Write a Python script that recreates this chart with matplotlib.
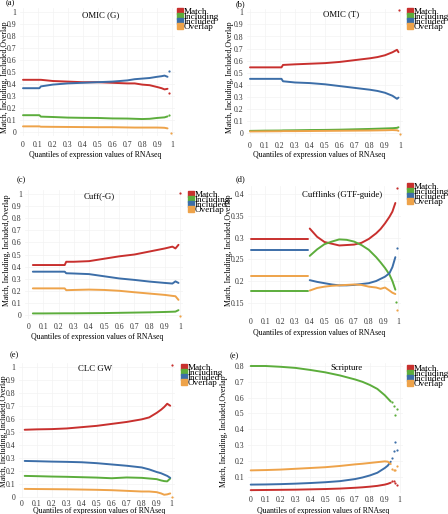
import matplotlib
matplotlib.use("Agg")
import matplotlib.pyplot as plt
from matplotlib.lines import Line2D

plt.rcParams['font.family'] = ['Liberation Serif', 'DejaVu Serif']

W, H = 448, 514
SERIES = ["Match", "Including", "Included", "Overlap"]
COLORS = {"Match": "#c8302e", "Including": "#5cad3c", "Included": "#3c6ea8", "Overlap": "#eea34a"}
XTICKS = [0, 0.1, 0.2, 0.3, 0.4, 0.5, 0.6, 0.7, 0.8, 0.9, 1]
XTICKLABELS = ["0", "0.1", "0.2", "0.3", "0.4", "0.5", "0.6", "0.7", "0.8", "0.9", "1"]
XLABEL = "Quantiles of expression values of RNAseq"
YLABEL = "Match, Including, Included,Overlap"

# ---------------- Panel (a) OMIC (G)
a_x = [0.0, 0.05, 0.11, 0.12, 0.2, 0.3, 0.4, 0.5, 0.6, 0.7, 0.75, 0.8, 0.85, 0.9, 0.93, 0.95, 0.97]
a_match = [0.435, 0.435, 0.435, 0.435, 0.425, 0.42, 0.415, 0.415, 0.41, 0.405, 0.405, 0.395, 0.39, 0.375, 0.365, 0.355, 0.36]
a_including = [0.14, 0.14, 0.14, 0.128, 0.125, 0.12, 0.118, 0.117, 0.113, 0.112, 0.11, 0.108, 0.11, 0.117, 0.12, 0.122, 0.13]
a_included = [0.365, 0.365, 0.365, 0.38, 0.395, 0.405, 0.41, 0.415, 0.42, 0.43, 0.44, 0.445, 0.45, 0.46, 0.465, 0.47, 0.46]
a_overlap = [0.047, 0.047, 0.047, 0.044, 0.043, 0.042, 0.041, 0.04, 0.04, 0.038, 0.037, 0.037, 0.037, 0.037, 0.036, 0.035, 0.03]
a_dots = {"Match": ([0.98], [0.325]), "Including": ([0.98], [0.138]),
          "Included": ([0.98], [0.505]), "Overlap": ([0.99], [-0.01])}

# ---------------- Panel (b) OMIC (T)
b_x = [0.0, 0.1, 0.21, 0.22, 0.3, 0.4, 0.5, 0.6, 0.7, 0.8, 0.85, 0.9, 0.95, 0.98, 0.99]
b_match = [0.545, 0.545, 0.545, 0.565, 0.57, 0.575, 0.58, 0.59, 0.605, 0.62, 0.63, 0.645, 0.67, 0.69, 0.67]
b_including = [0.02, 0.022, 0.023, 0.024, 0.025, 0.027, 0.028, 0.03, 0.033, 0.036, 0.038, 0.04, 0.042, 0.045, 0.05]
b_included = [0.45, 0.45, 0.45, 0.43, 0.42, 0.415, 0.405, 0.39, 0.375, 0.36, 0.35, 0.335, 0.31, 0.285, 0.295]
b_overlap = [0.015, 0.016, 0.017, 0.018, 0.018, 0.019, 0.02, 0.021, 0.022, 0.023, 0.024, 0.025, 0.027, 0.025, 0.02]
b_dots = {"Match": ([0.996], [1.02]), "Overlap": ([1.0], [-0.005])}

# ---------------- Panel (c) Cuff(-G)
c_x = [0.03, 0.1, 0.24, 0.25, 0.3, 0.4, 0.5, 0.6, 0.7, 0.8, 0.9, 0.95, 0.97, 0.99]
c_match = [0.413, 0.413, 0.413, 0.44, 0.44, 0.445, 0.465, 0.485, 0.5, 0.525, 0.55, 0.565, 0.55, 0.58]
c_including = [0.013, 0.013, 0.014, 0.014, 0.014, 0.015, 0.016, 0.018, 0.02, 0.022, 0.025, 0.027, 0.028, 0.04]
c_included = [0.358, 0.358, 0.358, 0.345, 0.343, 0.338, 0.32, 0.302, 0.29, 0.276, 0.265, 0.26, 0.278, 0.265]
c_overlap = [0.22, 0.22, 0.22, 0.205, 0.207, 0.21, 0.207, 0.2, 0.188, 0.177, 0.166, 0.158, 0.155, 0.125]
c_dots = {"Match": ([1.0], [1.01]), "Overlap": ([1.0], [-0.01])}

# ---------------- Panel (d) Cufflinks (GTF-guide)
d_x1 = [0.0, 0.2, 0.39]
d_match1 = [0.296, 0.296, 0.296]
d_including1 = [0.178, 0.178, 0.178]
d_included1 = [0.272, 0.272, 0.272]
d_overlap1 = [0.2115, 0.2115, 0.2115]
d_x2 = [0.4, 0.45, 0.5, 0.55, 0.6, 0.65, 0.7, 0.75, 0.8, 0.85, 0.88, 0.91, 0.94, 0.96, 0.98]
d_match2 = [0.321, 0.302, 0.29, 0.286, 0.282, 0.283, 0.284, 0.288, 0.297, 0.31, 0.32, 0.333, 0.348, 0.36, 0.38]
d_including2 = [0.258, 0.273, 0.285, 0.291, 0.296, 0.295, 0.291, 0.283, 0.272, 0.255, 0.243, 0.23, 0.215, 0.2, 0.18]
d_included2 = [0.202, 0.198, 0.195, 0.192, 0.19, 0.19, 0.191, 0.193, 0.195, 0.2, 0.205, 0.21, 0.218, 0.232, 0.255]
d_overlap2 = [0.178, 0.184, 0.187, 0.189, 0.19, 0.191, 0.192, 0.191, 0.187, 0.185, 0.182, 0.185, 0.178, 0.173, 0.17]
d_dots = {"Match": ([0.99], [0.415]), "Including": ([0.985], [0.152]),
          "Included": ([0.99], [0.276]), "Overlap": ([0.99], [0.133])}

# ---------------- Panel (e) CLC GW
e_x = [0.02, 0.1, 0.2, 0.3, 0.4, 0.5, 0.6, 0.7, 0.8, 0.85, 0.9, 0.93, 0.95, 0.97, 0.99]
e_match = [0.515, 0.518, 0.52, 0.525, 0.535, 0.545, 0.56, 0.575, 0.595, 0.61, 0.645, 0.67, 0.69, 0.715, 0.7]
e_including = [0.16, 0.158, 0.155, 0.153, 0.15, 0.147, 0.142, 0.148, 0.145, 0.14, 0.135, 0.125, 0.12, 0.118, 0.14]
e_included = [0.275, 0.273, 0.27, 0.268, 0.265, 0.258, 0.248, 0.238, 0.225, 0.21, 0.19, 0.18, 0.17, 0.16, 0.145]
e_overlap = [0.06, 0.059, 0.058, 0.057, 0.055, 0.053, 0.05, 0.045, 0.04, 0.04, 0.035, 0.025, 0.015, 0.018, 0.025]
e_dots = {"Match": ([1.0], [1.01]), "Overlap": ([1.0], [-0.005])}

# ---------------- Panel (f) Scripture
f_x = [0.0, 0.1, 0.2, 0.3, 0.4, 0.5, 0.6, 0.7, 0.75, 0.8, 0.85, 0.9, 0.92, 0.94]
f_match = [0.015, 0.016, 0.017, 0.018, 0.02, 0.022, 0.025, 0.03, 0.033, 0.037, 0.042, 0.05, 0.055, 0.062]
f_including = [0.8, 0.8, 0.795, 0.788, 0.775, 0.76, 0.74, 0.715, 0.7, 0.68, 0.655, 0.615, 0.595, 0.575]
f_included = [0.05, 0.051, 0.053, 0.056, 0.06, 0.065, 0.072, 0.085, 0.095, 0.108, 0.125, 0.155, 0.17, 0.195]
f_overlap = [0.14, 0.142, 0.145, 0.15, 0.155, 0.16, 0.168, 0.178, 0.182, 0.187, 0.192, 0.197, 0.195, 0.18]
f_dots = {"Match": ([0.95, 0.96, 0.97, 0.98], [0.07, 0.07, 0.06, 0.045]),
          "Including": ([0.95, 0.96, 0.97, 0.98], [0.575, 0.545, 0.49, 0.53]),
          "Included": ([0.95, 0.96, 0.97, 0.98], [0.22, 0.26, 0.32, 0.27]),
          "Overlap": ([0.95, 0.96, 0.97, 0.98], [0.15, 0.14, 0.145, 0.17])}

fig = plt.figure(figsize=(W / 100, H / 100), dpi=100)
FS = 5.6


def fx(px):
    return px / W


def fy(py):
    return 1 - py / H


def make_axes(x0px, x1px, va, pya, vb, pyb, xlim, ylim, pad=2.5):
    # pixel positions of data x=0,1 and y=va,vb -> axes rectangle for given limits
    sx = (x1px - x0px)
    left = x0px + (xlim[0]) * sx
    right = x0px + (xlim[1]) * sx
    sy = (pyb - pya) / (vb - va)
    top = pya + (ylim[1] - va) * sy
    bottom = pya + (ylim[0] - va) * sy
    ax = fig.add_axes([fx(left), fy(bottom), fx(right - left), (bottom - top) / H])
    ax.set_xlim(*xlim)
    ax.set_ylim(*ylim)
    for s in ax.spines.values():
        s.set_visible(False)
    ax.tick_params(length=0, labelsize=FS, pad=2.5, colors="#333333")
    ax.tick_params(axis="x", pad=pad)
    ax.set_xticks(XTICKS)
    ax.set_xticklabels(XTICKLABELS)
    ax.grid(True, color="#f3f3f3", linewidth=0.5)
    ax.set_axisbelow(True)
    return ax


def draw(ax, xs, series, dots, lw=1.4):
    for name in SERIES:
        if name in series:
            for xv, yv in zip(xs if isinstance(xs[0], list) else [xs], series[name] if isinstance(series[name][0], list) else [series[name]]):
                ax.plot(xv, yv, color=COLORS[name], lw=lw, solid_capstyle="round")
        if name in dots:
            ax.plot(dots[name][0], dots[name][1], "o", color=COLORS[name], ms=1.6, mew=0)


def legend(ax, xpx, ypx):
    handles = [Line2D([], [], marker="s", ls="", color=COLORS[n], ms=4.2) for n in SERIES]
    ax.legend(handles, SERIES, loc="upper left", bbox_to_anchor=(fx(xpx), fy(ypx)),
              bbox_transform=fig.transFigure, frameon=False, fontsize=6.6,
              handlelength=0.6, handletextpad=0.15, labelspacing=-0.38, borderpad=0,
              borderaxespad=0)


def decorate(ax, title, tx, ty, tag, tagpos, ylpos, xlpos, legpos):
    ax.text(tx, ty, title, fontsize=6.3, ha="center", va="center")
    fig.text(fx(tagpos[0]), fy(tagpos[1]), tag, fontsize=6, ha="center", va="center")
    fig.text(fx(ylpos[0]), fy(ylpos[1]), YLABEL, fontsize=FS, rotation=90, ha="center", va="center")
    fig.text(fx(xlpos[0]), fy(xlpos[1]), XLABEL, fontsize=FS, ha="center", va="center")
    legend(ax, *legpos)


Y01 = [0, 0.1, 0.2, 0.3, 0.4, 0.5, 0.6, 0.7, 0.8, 0.9, 1]
Y01L = ["0", "0.1", "0.2", "0.3", "0.4", "0.5", "0.6", "0.7", "0.8", "0.9", "1"]

# (a)
ax = make_axes(23, 172, 1, 12, 0, 132, (-0.02, 1.02), (-0.03, 1.03), pad=4)
ax.set_yticks(Y01); ax.set_yticklabels(Y01L)
draw(ax, a_x, {"Match": a_match, "Including": a_including, "Included": a_included, "Overlap": a_overlap}, a_dots)
decorate(ax, "OMIC (G)", 0.52, 0.97, "(a)", (10, 3), (5, 77), (95, 155), (177, 8))

# (b)
ax = make_axes(250, 400, 1, 12.3, 0, 133.3, (-0.02, 1.02), (-0.03, 1.03), pad=4)
ax.set_yticks(Y01); ax.set_yticklabels(Y01L)
draw(ax, b_x, {"Match": b_match, "Including": b_including, "Included": b_included, "Overlap": b_overlap}, b_dots)
decorate(ax, "OMIC (T)", 0.61, 0.985, "(b)", (240, 4), (230, 77), (319, 155), (407, 8))

# (c)
ax = make_axes(28.3, 180, 1, 194, 0, 315, (-0.02, 1.02), (-0.03, 1.03), pad=3)
ax.set_yticks(Y01); ax.set_yticklabels(Y01L)
draw(ax, c_x, {"Match": c_match, "Including": c_including, "Included": c_included, "Overlap": c_overlap}, c_dots)
decorate(ax, "Cuff(-G)", 0.47, 0.98, "(c)", (21, 180), (7, 250), (97, 337), (188, 191))

# (d)
ax = make_axes(250.7, 398.3, 0.4, 194.3, 0.15, 302.7, (-0.02, 1.02), (0.125, 0.42), pad=3)
ax.set_yticks([0.15, 0.2, 0.25, 0.3, 0.35, 0.4])
ax.set_yticklabels(["0.15", "0.2", "0.25", "0.3", "0.35", "0.4"])
draw(ax, [d_x1, d_x2], {"Match": [d_match1, d_match2], "Including": [d_including1, d_including2],
                        "Included": [d_included1, d_included2], "Overlap": [d_overlap1, d_overlap2]}, d_dots)
decorate(ax, "Cufflinks (GTF-guide)", 0.62, 0.398, "(d)", (240, 179), (229, 250), (319, 333), (407, 183))

# (e)
ax = make_axes(21.7, 171.7, 1, 366.7, 0, 496.7, (-0.02, 1.02), (-0.012, 1.03), pad=1.5)
ax.set_yticks(Y01); ax.set_yticklabels(Y01L)
draw(ax, e_x, {"Match": e_match, "Including": e_including, "Included": e_included, "Overlap": e_overlap}, e_dots)
decorate(ax, "CLC GW", 0.49, 0.98, "(e)", (14, 355), (4, 431), (99, 511), (181, 364))

# (f)
ax = make_axes(250.7, 399.7, 0.8, 366, 0.1, 476.7, (-0.02, 1.02), (0.0, 0.82), pad=2.5)
ax.set_yticks([0.1, 0.2, 0.3, 0.4, 0.5, 0.6, 0.7, 0.8])
ax.set_yticklabels(["0.1", "0.2", "0.3", "0.4", "0.5", "0.6", "0.7", "0.8"])
draw(ax, f_x, {"Match": f_match, "Including": f_including, "Included": f_included, "Overlap": f_overlap}, f_dots)
decorate(ax, "Scripture", 0.645, 0.787, "(e)", (234, 356), (224, 431), (323, 511), (407, 365))

fig.savefig("out.png", dpi=100)
